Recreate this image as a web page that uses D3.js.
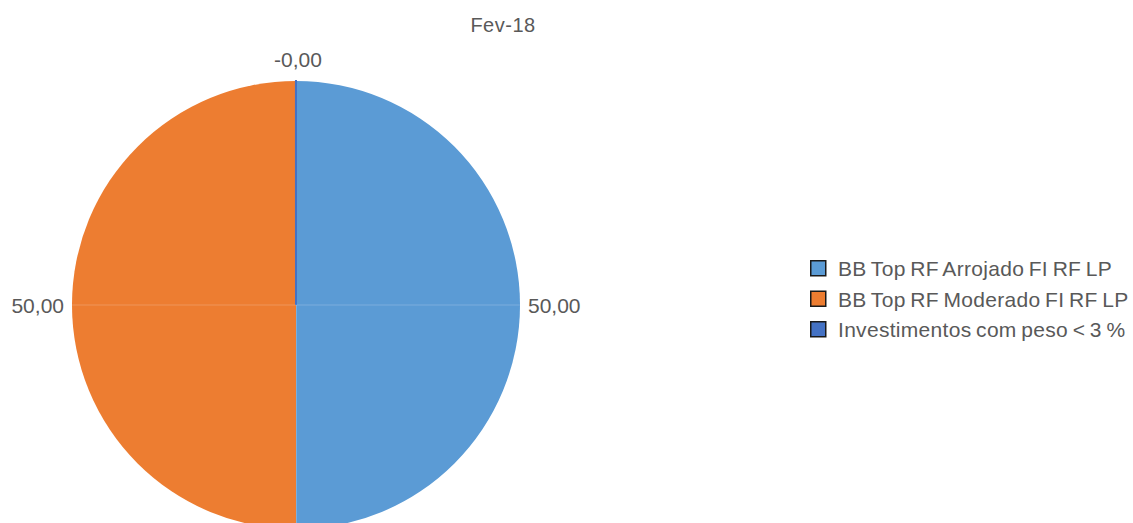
<!DOCTYPE html>
<html>
<head>
<meta charset="utf-8">
<script src="https://cdn.jsdelivr.net/npm/d3@7"></script>
<style>
  body { margin: 0; background: #fff; }
  text { font-family: "Liberation Sans", Arial, sans-serif; fill: #595959; }
</style>
</head>
<body>
<div id="chart"></div>
<script>
var title = "Fev-18";
var names = ["BB Top RF Arrojado FI RF LP", "BB Top RF Moderado FI RF LP", "Investimentos com peso < 3 %"];
var values = [50.00, 50.00, -0.004];
var colors = ["#5B9BD5", "#ED7D31", "#4472C4"];

var width = 1133, height = 523;
var cx = 296, cy = 305, R = 224;

var svg = d3.select("#chart").append("svg")
    .attr("width", width)
    .attr("height", height);

var fmt = d3.format(".2f");
function label(v) {
  var s = fmt(Math.abs(v)).replace(".", ",");
  return (v < 0 ? "-" : "") + s;
}

var pie = d3.pie().sort(null).value(function(d) { return Math.abs(d); });
var arcs = pie(values);
var arc = d3.arc().innerRadius(0).outerRadius(R);

var g = svg.append("g").attr("transform", "translate(" + cx + "," + cy + ")");

g.selectAll("path")
  .data(arcs)
  .enter().append("path")
    .attr("d", arc)
    .attr("fill", function(d, i) { return colors[i]; })
    .attr("stroke", function(d, i) { return i == 2 ? colors[i] : "none"; })
    .attr("stroke-width", 2);

// faint seams like the original rendering
g.append("line").attr("x1", -R).attr("x2", R).attr("y1", 0).attr("y2", 0)
  .attr("stroke", "#fff").attr("stroke-opacity", 0.2).attr("stroke-width", 1);
g.append("line").attr("x1", 0.5).attr("x2", 0.5).attr("y1", 0).attr("y2", R)
  .attr("stroke", "#fff").attr("stroke-opacity", 0.2).attr("stroke-width", 1);

// data labels
g.selectAll("text.lbl")
  .data(arcs)
  .enter().append("text")
    .attr("class", "lbl")
    .style("font-size", "21px")
    .each(function(d) {
      var a = (d.startAngle + d.endAngle) / 2;
      var s = Math.sin(a), c = Math.cos(a);
      var r = R + 8;
      var x = r * s, y = -r * c;
      var anchor = s > 0.3 ? "start" : (s < -0.3 ? "end" : "middle");
      y = y - 14 * Math.max(c, 0) + 7.5;
      d3.select(this)
        .attr("x", x + (anchor == "middle" ? 2 : 0))
        .attr("y", y)
        .attr("text-anchor", anchor)
        .text(label(d.data));
    });

// title
svg.append("text")
  .attr("x", 503).attr("y", 32)
  .attr("text-anchor", "middle")
  .style("font-size", "20px")
  .style("letter-spacing", "0.5px")
  .text(title);

// legend
var legend = svg.append("g").attr("transform", "translate(810,260)");
var row = legend.selectAll("g")
  .data(names)
  .enter().append("g")
    .attr("transform", function(d, i) { return "translate(0," + (i * 30.5) + ")"; });
row.append("rect")
  .attr("x", 0.75).attr("y", 0.75)
  .attr("width", 15).attr("height", 15)
  .attr("fill", function(d, i) { return colors[i]; })
  .attr("stroke", "#1a1a1a")
  .attr("stroke-width", 1.5);
row.append("text")
  .attr("x", 28).attr("y", 16)
  .style("font-size", "21px")
  .style("letter-spacing", "0.3px")
  .style("word-spacing", "-1.5px")
  .text(function(d) { return d; });
</script>
</body>
</html>
